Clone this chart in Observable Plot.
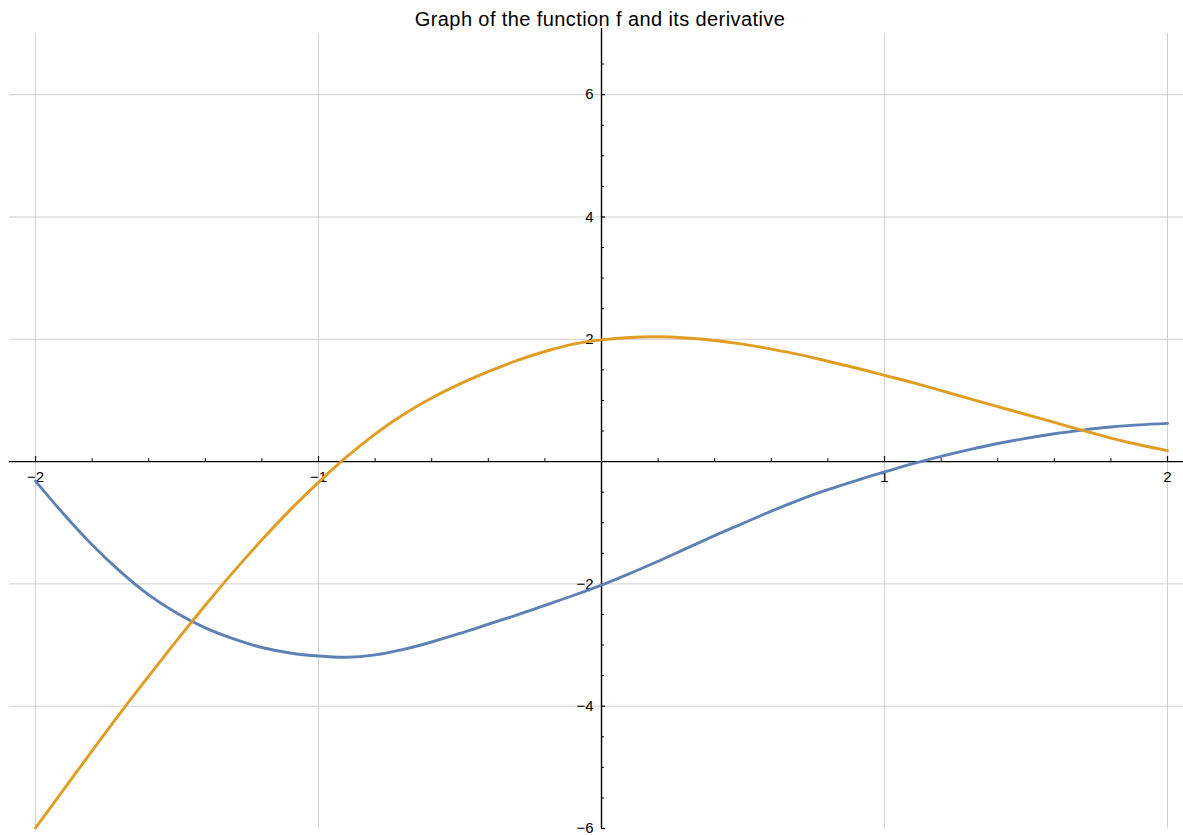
<!DOCTYPE html>
<html>
<head>
<meta charset="utf-8">
<script src="https://cdn.jsdelivr.net/npm/d3@7"></script>
<script src="https://cdn.jsdelivr.net/npm/@observablehq/plot@0.6"></script>
<style>
  html, body { margin: 0; padding: 0; background: #fff; }
  #wrap { position: relative; width: 1183px; height: 835px; }
  #title { position: absolute; left: 17px; width: 1166px; top: 9px; text-align: center;
           font-family: "Liberation Sans", Arial, sans-serif; font-size: 20px; letter-spacing: 0.4px; color: #000; line-height: 20px; white-space: nowrap; }
  #chart { position: absolute; left: 0; top: 28px; }
  #chart svg { font-family: "Liberation Sans", Arial, sans-serif; }
</style>
</head>
<body>
<div id="wrap">
  <div id="title">Graph of the function f and its derivative</div>
  <div id="chart"></div>
</div>
<script>
// sample positions (x)
const xs = [-2.0,-1.9,-1.8,-1.7,-1.6,-1.5,-1.4,-1.3,-1.2,-1.1,-1.0,-0.9,-0.8,-0.7,-0.6,-0.5,-0.4,-0.3,-0.2,-0.1,
            0.0,0.1,0.2,0.3,0.4,0.5,0.6,0.7,0.8,0.9,1.0,1.1,1.2,1.3,1.4,1.5,1.6,1.7,1.8,1.9,2.0];
// f (blue)
const fValues = [-0.32,-0.86,-1.36,-1.80,-2.18,-2.48,-2.72,-2.90,-3.04,-3.13,-3.18,-3.20,-3.16,-3.07,-2.95,-2.81,-2.66,-2.51,-2.35,-2.19,
                 -2.02,-1.83,-1.63,-1.42,-1.21,-1.01,-0.81,-0.625,-0.46,-0.31,-0.17,-0.035,0.085,0.195,0.295,0.38,0.455,0.515,0.565,0.60,0.625];
// f' (orange)
const dfValues = [-5.99,-5.36,-4.73,-4.11,-3.51,-2.92,-2.35,-1.80,-1.28,-0.79,-0.34,0.08,0.45,0.77,1.04,1.27,1.47,1.65,1.80,1.92,
                  1.99,2.03,2.04,2.02,1.98,1.92,1.84,1.75,1.64,1.53,1.41,1.29,1.16,1.03,0.90,0.77,0.64,0.51,0.385,0.275,0.18];

const xGrid = [-2, -1, 1, 2];
const yGrid = [-4, -2, 2, 4, 6];
const xMajorTicks = [-2, -1, 1, 2];
const xTickLabels = ["\u22122", "\u22121", "1", "2"];
const xMinorTicks = [-1.8,-1.6,-1.4,-1.2,-0.8,-0.6,-0.4,-0.2,0.2,0.4,0.6,0.8,1.2,1.4,1.6,1.8];
const yMajorTicks = [-6, -4, -2, 2, 4, 6];
const yTickLabels = ["\u22126", "\u22124", "\u22122", "2", "4", "6"];
const yMinorTicks = [-5.5,-5,-4.5,-3.5,-3,-2.5,-1.5,-1,-0.5,0.5,1,1.5,2.5,3,3.5,4.5,5,5.5,6.5];

const blue = "#5E81B5";
const orange = "#E19C24";

const fData = xs.map((x, i) => ({x, y: fValues[i]}));
const dfData = xs.map((x, i) => ({x, y: dfValues[i]}));

const chart = Plot.plot({
  width: 1183,
  height: 807,
  marginLeft: 9,
  marginRight: 0,
  marginTop: 5,
  marginBottom: 7,
  x: {domain: [-2.0919, 2.0565], axis: null},
  y: {domain: [-6, 7], axis: null},
  marks: [
    Plot.ruleX(xGrid, {x: d => d, y1: -6, y2: 7, stroke: "#cfcfcf", strokeWidth: 1}),
    Plot.ruleY(yGrid, {y: d => d, stroke: "#cfcfcf", strokeWidth: 1}),
    Plot.ruleY([0], {y: d => d, stroke: "#000", strokeWidth: 1.4}),
    Plot.ruleX([0], {x: d => d, y1: -6, y2: 7.14, stroke: "#000", strokeWidth: 1.4}),
    Plot.ruleX(xMajorTicks, {x: d => d, y1: 0, y2: 0, insetTop: -5, stroke: "#000", strokeWidth: 1.2}),
    Plot.ruleX(xMinorTicks, {x: d => d, y1: 0, y2: 0, insetTop: -3, stroke: "#000", strokeWidth: 1}),
    Plot.ruleY(yMajorTicks, {y: d => d, x1: 0, x2: 0, insetRight: -4, stroke: "#000", strokeWidth: 1.2}),
    Plot.ruleY(yMinorTicks, {y: d => d, x1: 0, x2: 0, insetRight: -3, stroke: "#000", strokeWidth: 1}),
    Plot.text(xMajorTicks, {x: d => d, y: 0, dy: 16, text: (d, i) => xTickLabels[i], fontSize: 15, fill: "#000"}),
    Plot.text(yMajorTicks, {x: 0, y: d => d, dx: -8, text: (d, i) => yTickLabels[i], textAnchor: "end", fontSize: 15, fill: "#000"}),
    Plot.line(fData, {x: "x", y: "y", stroke: blue, strokeWidth: 2.9, curve: "catmull-rom"}),
    Plot.line(dfData, {x: "x", y: "y", stroke: orange, strokeWidth: 2.9, curve: "catmull-rom"})
  ]
});
document.getElementById("chart").appendChild(chart);
</script>
</body>
</html>
